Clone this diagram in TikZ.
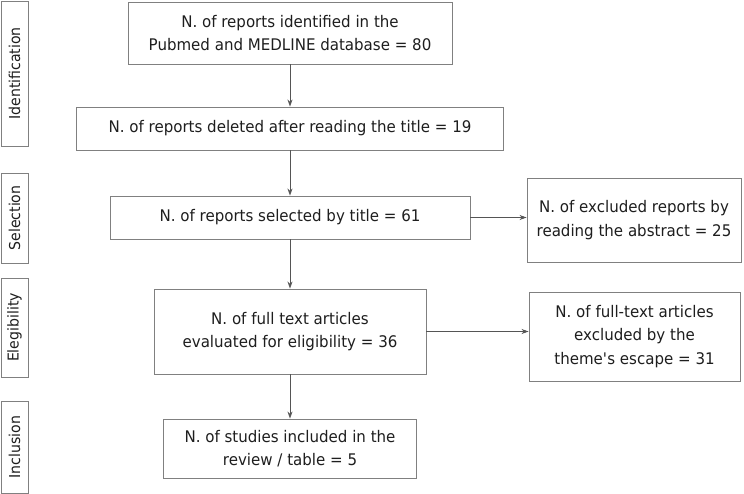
\documentclass[tikz,border=0pt]{standalone}
\usepackage{fontspec}
\setmainfont[FakeStretch=0.94]{DejaVu Sans}
\usetikzlibrary{arrows.meta}
\definecolor{boxline}{HTML}{808080}
\definecolor{arrline}{HTML}{555555}
\definecolor{txt}{HTML}{1E1E1E}
\begin{document}
\begin{tikzpicture}[x=1pt,y=-1pt,
  every node/.style={font=\fontsize{16}{23.5}\selectfont, text=txt},
  box/.style={draw=boxline, line width=0.9pt, inner sep=0pt, align=center},
  side/.style={draw=boxline, line width=0.9pt, inner sep=0pt, rotate=90, minimum height=27pt, font=\fontsize{15}{17}\selectfont},
  arr/.style={draw=arrline, line width=0.8pt, -{Stealth[length=7pt,width=5pt]}}
]
\useasboundingbox (0,0) rectangle (744,494);
% side labels
\node[side, minimum width=145pt] (sid) at (14.5,73.5) {Identification};
\node[side, minimum width=90pt] (ssel) at (14.5,218) {Selection};
\node[side, minimum width=99pt] (seli) at (14.5,327.5) {Elegibility};
\node[side, minimum width=92pt] (sinc) at (14.5,447) {Inclusion};
% main boxes
\node[box, minimum width=324pt, minimum height=62pt] (b1) at (290,33) {N. of reports identified in the\\Pubmed and MEDLINE database = 80};
\node[box, minimum width=427pt, minimum height=43pt] (b2) at (290,128.5) {N. of reports deleted after reading the title = 19};
\node[box, minimum width=360pt, minimum height=43pt] (b3) at (290,217.5) {N. of reports selected by title = 61};
\node[box, minimum width=272pt, minimum height=85pt] (b4) at (290,331.5) {N. of full text articles\\evaluated for eligibility = 36};
\node[box, minimum width=253pt, minimum height=59pt] (b5) at (290,448.5) {N. of studies included in the\\review / table = 5};
% right boxes
\node[box, minimum width=214pt, minimum height=84pt] (r1) at (634,220) {N. of excluded reports by\\reading the abstract = 25};
\node[box, minimum width=211pt, minimum height=89pt] (r2) at (634.5,336.5) {N. of full-text articles\\excluded by the\\theme\textquotesingle s escape = 31};
% arrows
\draw[arr] (b1) -- (b2);
\draw[arr] (b2) -- (b3);
\draw[arr] (b3) -- (b4);
\draw[arr] (b4) -- (b5);
\draw[arr] (b3.east) -- (b3.east -| r1.west);
\draw[arr] (b4.east) -- (b4.east -| r2.west);
\end{tikzpicture}
\end{document}
